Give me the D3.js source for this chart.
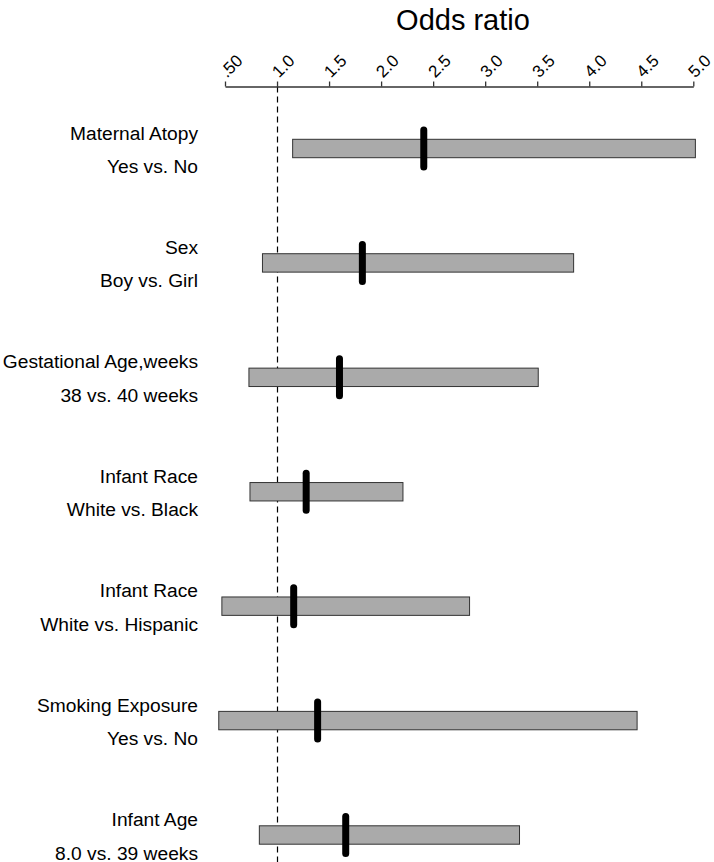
<!DOCTYPE html>
<html>
<head>
<meta charset="utf-8">
<script src="https://cdn.jsdelivr.net/npm/d3@7"></script>
<style>
  html, body { margin: 0; padding: 0; background: #fff; }
  svg { display: block; font-family: "Liberation Sans", Arial, sans-serif; }
</style>
</head>
<body>
<svg id="chart" width="714" height="862"></svg>
<script>
// ---- data ----
const factors = ["Maternal Atopy", "Sex", "Gestational Age,weeks", "Infant Race", "Infant Race", "Smoking Exposure", "Infant Age"];
const contrasts = ["Yes vs. No", "Boy vs. Girl", "38 vs. 40 weeks", "White vs. Black", "White vs. Hispanic", "Yes vs. No", "8.0 vs. 39 weeks"];
const oddsRatio = [2.41, 1.82, 1.60, 1.28, 1.16, 1.39, 1.66];
const lowerCI = [1.15, 0.86, 0.73, 0.74, 0.47, 0.44, 0.83];
const upperCI = [5.02, 3.85, 3.51, 2.21, 2.85, 4.46, 3.33];
const tickValues = [0.5, 1.0, 1.5, 2.0, 2.5, 3.0, 3.5, 4.0, 4.5, 5.0];
const tickLabels = [".50", "1.0", "1.5", "2.0", "2.5", "3.0", "3.5", "4.0", "4.5", "5.0"];
const refValue = 1.0;

const rows = factors.map((f, i) => ({
  id: i, factor: f, contrast: contrasts[i],
  or: oddsRatio[i], lo: lowerCI[i], hi: upperCI[i]
}));

const svg = d3.select("#chart");
const x = d3.scaleLinear().domain([0.5, 5.0]).range([225, 693.3]);
const y = d3.scalePoint().domain(rows.map(d => d.id)).range([148.5, 835]);
const axisY = 86.5;

// title
svg.append("text")
  .attr("x", 463).attr("y", 30)
  .attr("text-anchor", "middle")
  .attr("font-size", 29)
  .attr("fill", "#000")
  .text("Odds ratio");

// reference dashed line
const refX = Math.round(x(refValue)) + 0.5;
svg.append("line")
  .attr("x1", refX).attr("x2", refX)
  .attr("y1", axisY).attr("y2", 862)
  .attr("stroke", "#000").attr("stroke-width", 1.2)
  .attr("stroke-dasharray", "6,4");

// axis
const axis = d3.axisTop(x)
  .tickValues(tickValues)
  .tickFormat((d, i) => tickLabels[i])
  .tickSize(5)
  .tickSizeOuter(0);
const gAxis = svg.append("g")
  .attr("transform", `translate(0,${axisY})`)
  .call(axis);
gAxis.select(".domain").attr("stroke", "#333").attr("stroke-width", 1.3);
gAxis.selectAll(".tick line").attr("stroke", "#333").attr("stroke-width", 1.3);
gAxis.selectAll(".tick text")
  .attr("font-size", 17)
  .attr("font-family", "Liberation Sans, Arial, sans-serif")
  .attr("fill", "#000")
  .attr("text-anchor", "start")
  .attr("x", 0).attr("y", 0).attr("dy", 0)
  .attr("transform", "translate(1.5,-8) rotate(-45)");

// bars (CI)
svg.append("g").selectAll("rect")
  .data(rows).join("rect")
  .attr("x", d => x(d.lo))
  .attr("width", d => x(d.hi) - x(d.lo))
  .attr("y", d => y(d.id) - 9.2)
  .attr("height", 18.4)
  .attr("fill", "#aaaaaa")
  .attr("stroke", "#333")
  .attr("stroke-width", 1);

// point estimates
svg.append("g").selectAll("line")
  .data(rows).join("line")
  .attr("x1", d => x(d.or)).attr("x2", d => x(d.or))
  .attr("y1", d => y(d.id) - 18.5)
  .attr("y2", d => y(d.id) + 18.5)
  .attr("stroke", "#000")
  .attr("stroke-width", 7)
  .attr("stroke-linecap", "round");

// labels
const lab = svg.append("g").attr("font-size", 19.2).attr("fill", "#000").attr("text-anchor", "end");
lab.selectAll("text.f")
  .data(rows).join("text").attr("class", "f")
  .attr("x", 198).attr("y", d => y(d.id) - 9)
  .text(d => d.factor);
lab.selectAll("text.c")
  .data(rows).join("text").attr("class", "c")
  .attr("x", 198).attr("y", d => y(d.id) + 24.5)
  .text(d => d.contrast);
</script>
</body>
</html>
